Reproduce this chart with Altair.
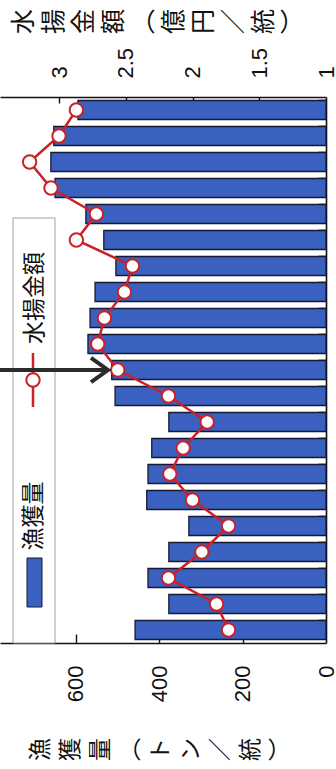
import altair as alt
import pandas as pd

# Yearly series, oldest first (drawn bottom to top)
periods = list(range(1, 22))
catch_t = [458, 377, 427, 377, 329, 430, 427, 418, 377, 506, 514,
           571, 566, 554, 504, 533, 576, 650, 660, 653, 595]
value_oku = [1.73, 1.82, 2.18, 1.93, 1.73, 2.00, 2.17, 2.07, 1.89, 2.18, 2.56,
             2.71, 2.66, 2.51, 2.45, 2.87, 2.72, 3.06, 3.22, 3.00, 2.87]

catch_ticks = [0, 200, 400, 600]
value_ticks = [1, 1.5, 2, 2.5, 3]
CATCH_DOMAIN = [0, 782]
VALUE_DOMAIN = [1, 3.442]

# Vertical-text titles: one character per line, turned a quarter turn
catch_title = ["漁", "獲", "量", "︵", "ト", "ン", "／", "統", "︶"]
value_title = ["水", "揚", "金", "額", "︵", "億", "円", "／", "統", "︶"]
legend_labels = ["漁獲量", "水揚金額"]

# Arrow pointing at one year's landing value
arrow_period = 11
arrow_tip = 2.633

W, H = 326, 546
BAR_BLUE = "#3a61bf"
RED = "#cc2027"
INK = "#111111"
JP = "Noto Sans CJK JP"
NUM = "Liberation Sans"

df = pd.DataFrame({"period": periods, "catch": catch_t, "value": value_oku})
arrow_df = pd.DataFrame({"period": [arrow_period], "tip": [arrow_tip],
                         "tail": [VALUE_DOMAIN[1]]})

band = alt.Scale(type="band", paddingInner=0.27, paddingOuter=0.135)
catch_scale = alt.Scale(domain=CATCH_DOMAIN, reverse=True, nice=False, zero=True)
value_scale = alt.Scale(domain=VALUE_DOMAIN, reverse=True, nice=False, zero=False)


def y_enc(axis):
    return alt.Y("period:O", sort="descending", scale=band, axis=axis)


# Catch bars with the bottom axis (labels, title, baseline)
bars = alt.Chart(df).mark_bar(
    color=BAR_BLUE, stroke="#161a33", strokeWidth=1.3
).encode(
    x=alt.X("catch:Q", scale=catch_scale, axis=alt.Axis(
        orient="bottom", values=catch_ticks, ticks=False, grid=False,
        labelAngle=270, labelAlign="right", labelBaseline="middle",
        labelFont=NUM, labelFontSize=22, labelPadding=22, labelFlush=False,
        domainColor=INK, domainWidth=1.6,
        title=catch_title, titleAngle=270, titleFont=JP, titleFontSize=23,
        titleFontWeight="normal", titleLineHeight=30, titleAlign="center",
        titleBaseline="middle", titleX=40, titleY=106, titleColor=INK)),
    y=y_enc(alt.Axis(orient="right", labels=False, ticks=False, grid=False,
                     domainColor=INK, domainWidth=1.6, title="")),
)

# Inward tick marks for the catch axis and the year axis
inner_ticks = alt.Chart(df).mark_bar(opacity=0).encode(
    x=alt.X("catch:Q", scale=catch_scale, axis=alt.Axis(
        orient="bottom", values=catch_ticks[1:], offset=-9, tickSize=9,
        tickWidth=1.4, tickColor=INK, labels=False, domain=False,
        grid=False, title="")),
    y=y_enc(alt.Axis(orient="right", offset=-8, tickSize=8, tickWidth=1.6,
                     tickColor=INK, bandPosition=0, labels=False,
                     domain=False, grid=False, title="")),
)

# Legend frame and entries
legend_box = alt.Chart(pd.DataFrame({"label": ["box"]})).mark_rect(
    fill="white", stroke="#a0a0a0", strokeWidth=1
).encode(x=alt.value(13), x2=alt.value(55), y=alt.value(121), y2=alt.value(H))

legend_swatch = alt.Chart(pd.DataFrame({"label": [legend_labels[0]]})).mark_rect(
    color=BAR_BLUE, stroke="#161a33", strokeWidth=1
).encode(x=alt.value(27), x2=alt.value(42), y=alt.value(461), y2=alt.value(510))

legend_catch_text = alt.Chart(pd.DataFrame({"label": [legend_labels[0]]})).mark_text(
    angle=270, align="center", baseline="middle", font=JP, fontSize=23, color=INK
).encode(text="label:N", x=alt.value(34), y=alt.value(419))

legend_line = alt.Chart(pd.DataFrame({"label": [legend_labels[1]]})).mark_rule(
    color=RED, strokeWidth=2.5
).encode(x=alt.value(33), y=alt.value(256), y2=alt.value(310))

legend_dot = alt.Chart(pd.DataFrame({"label": [legend_labels[1]]})).mark_point(
    shape="circle", filled=True, fill="white", stroke=RED, strokeWidth=2,
    size=180, opacity=1
).encode(x=alt.value(33), y=alt.value(283))

legend_value_text = alt.Chart(pd.DataFrame({"label": [legend_labels[1]]})).mark_text(
    angle=270, align="center", baseline="middle", font=JP, fontSize=23, color=INK
).encode(text="label:N", x=alt.value(35), y=alt.value(201))

# Landing value line with the top axis (labels, title, baseline)
line = alt.Chart(df).mark_line(color=RED, strokeWidth=2.5).encode(
    x=alt.X("value:Q", scale=value_scale, axis=alt.Axis(
        orient="top", values=value_ticks, format="~g", ticks=False, grid=False,
        labelAngle=270, labelAlign="left", labelBaseline="middle",
        labelFont=NUM, labelFontSize=22, labelPadding=19, labelFlush=False,
        domainColor=INK, domainWidth=1.6,
        title=value_title, titleAngle=270, titleFont=JP, titleFontSize=25,
        titleFontWeight="normal", titleLineHeight=30, titleAlign="center",
        titleBaseline="middle", titleX=23, titleY=-76, titleColor=INK)),
    y=y_enc(None),
)

# Markers, carrying the inward ticks of the top axis
points = alt.Chart(df).mark_point(
    shape="circle", filled=True, fill="white", stroke=RED, strokeWidth=2,
    size=180, opacity=1
).encode(
    x=alt.X("value:Q", scale=value_scale, axis=alt.Axis(
        orient="top", values=value_ticks[1:], offset=-6, tickSize=6,
        tickWidth=1.4, tickColor=INK, labels=False, domain=False,
        grid=False, title="")),
    y=y_enc(None),
)

# Annotation arrow
arrow_shaft = alt.Chart(arrow_df).mark_rule(color="#2b2b2b", strokeWidth=4).encode(
    x=alt.X("tip:Q", scale=value_scale, axis=None),
    x2="tail:Q",
    y=y_enc(None),
)
arrow_head = alt.Chart(arrow_df).mark_point(
    shape="M-1,-0.72L0,0L-1,0.72", filled=False, stroke="#2b2b2b",
    strokeWidth=4, size=1156, opacity=1, strokeJoin="miter"
).encode(
    x=alt.X("tip:Q", scale=value_scale, axis=None),
    y=y_enc(None),
)

chart = alt.layer(
    bars, inner_ticks, legend_box, legend_swatch, legend_catch_text,
    legend_line, legend_dot, legend_value_text, line, points,
    arrow_shaft, arrow_head,
).resolve_scale(
    x="independent", y="independent"
).properties(
    width=W, height=H,
    autosize=alt.AutoSizeParams(type="none"),
    padding={"left": 0, "top": 97, "right": 10, "bottom": 126},
).configure_view(
    strokeWidth=0
).configure_axis(
    labelColor=INK
)

chart.save("out.html", embed_options={"renderer": "svg", "actions": False})
